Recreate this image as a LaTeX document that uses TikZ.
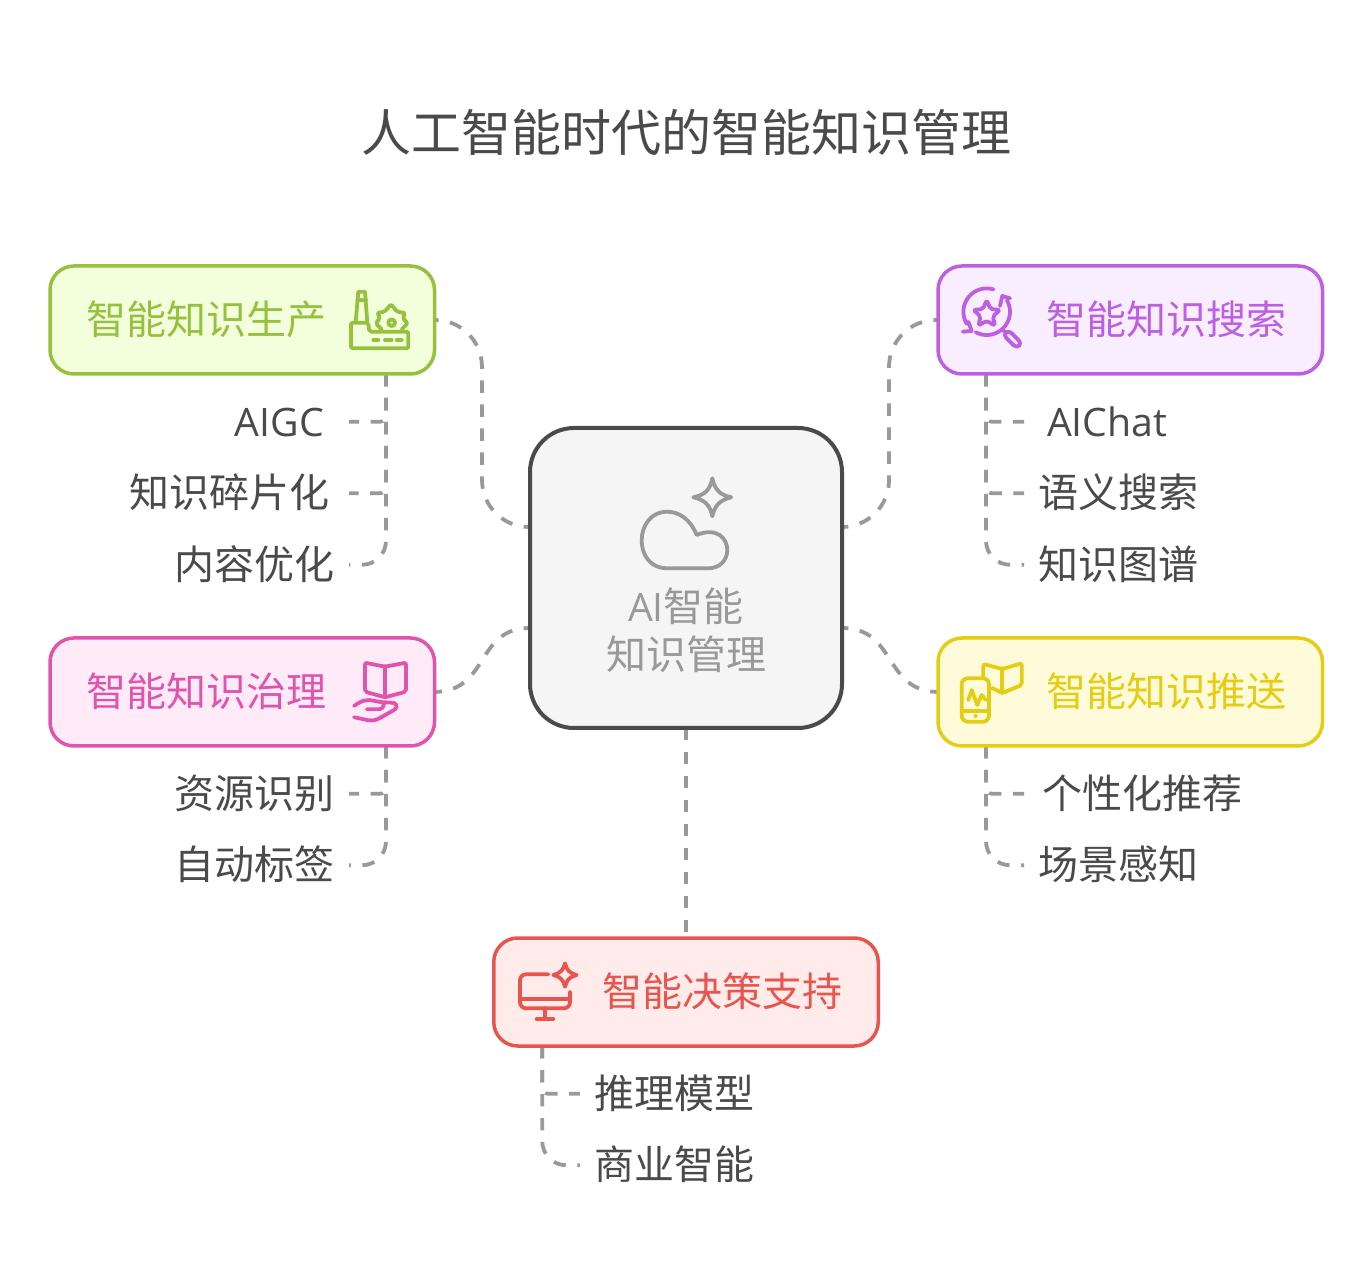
\documentclass[tikz,border=0pt]{standalone}
\usepackage{fontspec}
\setmainfont{Noto Sans CJK SC}
\newfontfamily\latinfont[Scale=0.98]{Open Sans}
\usepackage{xcolor}
\usetikzlibrary{positioning,backgrounds}
\definecolor{ink}{HTML}{4A4A4A}
\definecolor{muted}{HTML}{999999}
\definecolor{hubbg}{HTML}{F5F5F5}
\definecolor{prodc}{HTML}{97C13C}
\definecolor{prodbg}{HTML}{F3FFDC}
\definecolor{searchc}{HTML}{BC5FE0}
\definecolor{searchbg}{HTML}{F9EEFF}
\definecolor{govc}{HTML}{E055AC}
\definecolor{govbg}{HTML}{FFEBF7}
\definecolor{pushc}{HTML}{E3CE14}
\definecolor{pushbg}{HTML}{FFFADA}
\definecolor{decc}{HTML}{E8554F}
\definecolor{decbg}{HTML}{FFECEA}

\begin{document}
\begin{tikzpicture}[
    x=0.5pt, y=-0.5pt,
    hubbox/.style={draw=ink, line width=2pt, fill=hubbg, minimum width=156pt, minimum height=150pt, rounded corners=22pt, outer sep=0pt},
    hubtext/.style={text=muted, align=center, font=\fontsize{20}{24}\selectfont},
    topic/.style={draw=#1c, fill=#1bg, text=#1c, line width=1.75pt, rounded corners=12pt, outer sep=0pt, inner xsep=0pt, text width=192.25pt, minimum height=54pt, align=left, text height=14.5pt, text depth=0pt, font=\fontsize{20}{24}\selectfont},
    leaf/.style={text=ink, inner ysep=0pt, outer sep=0pt, minimum height=35.75pt, text height=14.5pt, text depth=0pt, font=\fontsize{20}{24}\selectfont},
    conn/.style={draw=muted, line width=1.9pt, dash pattern=on 6.2pt off 5.8pt},
    spoke/.style={conn, dash phase=3pt},
    icon/.style={draw=#1, line width=1.9pt, line cap=round, line join=round}
]
    \useasboundingbox (0,0) rectangle (1372,1288);

    % Title
    \node[text=ink, font=\fontsize{25}{30}\selectfont] (title) at (686,132) {人工智能时代的智能知识管理};

    % Centre block
    \node[hubbox] (hub) at (686,578) {};
    \node[hubtext] (hublabel) at ([yshift=-26pt]hub.center) {{\latinfont AI}智能\\知识管理};
    \coordinate (hubnw) at ([yshift=25.5pt]hub.west);
    \coordinate (hubsw) at ([yshift=-25pt]hub.west);
    \coordinate (hubne) at ([yshift=25.5pt]hub.east);
    \coordinate (hubse) at ([yshift=-25pt]hub.east);

    % Topic blocks
    \node[topic=prod, left=47.75pt of hub, yshift=129pt] (prod) {\hspace*{18pt}智能知识生产};
    \node[topic=gov, left=47.75pt of hub, yshift=-57pt] (gov) {\hspace*{18pt}智能知识治理};
    \node[topic=search, right=48pt of hub, yshift=129pt] (search) {\hspace*{54pt}智能知识搜索};
    \node[topic=push, right=48pt of hub, yshift=-57pt] (push) {\hspace*{54pt}智能知识推送};
    \node[topic=dec, below=105pt of hub] (dec) {\hspace*{54.5pt}智能决策支持};

    % Leaf labels
    \node[leaf, inner xsep=12.5pt, below left=6pt and 42.75pt of prod.south east] (aigc) {\latinfont AIGC};
    \node[leaf, inner xsep=10pt, below left=0pt and 0pt of aigc.south east] (frag) {知识碎片化};
    \node[leaf, inner xsep=7.5pt, below left=0pt and 0pt of frag.south east] (optim) {内容优化};
    \node[leaf, inner xsep=7.5pt, below left=6pt and 42.75pt of gov.south east] (resid) {资源识别};
    \node[leaf, inner xsep=7.5pt, below left=0pt and 0pt of resid.south east] (autotag) {自动标签};
    \node[leaf, inner xsep=11.5pt, below right=6pt and 43pt of search.south west] (aichat) {\latinfont AIChat};
    \node[leaf, inner xsep=7pt, below right=0pt and 0pt of aichat.south west] (semantic) {语义搜索};
    \node[leaf, inner xsep=7pt, below right=0pt and 0pt of semantic.south west] (kgraph) {知识图谱};
    \node[leaf, inner xsep=9pt, below right=6pt and 43pt of push.south west] (perso) {个性化推荐};
    \node[leaf, inner xsep=7pt, below right=0pt and 0pt of perso.south west] (scene) {场景感知};
    \node[leaf, inner xsep=7.5pt, below right=6pt and 43pt of dec.south west] (infer) {推理模型};
    \node[leaf, inner xsep=7.5pt, below right=0pt and 0pt of infer.south west] (bizint) {商业智能};

    % Bends and trunks
    \coordinate[left=24pt of hubnw] (prodbend);
    \coordinate[right=23.5pt of hubne] (searchbend);
    \coordinate (prodtrunk) at ([xshift=-24.25pt]prod.south east);
    \coordinate (govtrunk) at ([xshift=-24.25pt]gov.south east);
    \coordinate (searchtrunk) at ([xshift=24pt]search.south west);
    \coordinate (pushtrunk) at ([xshift=24pt]push.south west);
    \coordinate (dectrunk) at ([xshift=24.25pt]dec.south west);

    % Connections
    \begin{scope}[on background layer]
        \draw[spoke, rounded corners=23.5pt] (hubnw) -- (prodbend) |- (prod.east);
        \draw[spoke, rounded corners=23.5pt] (hubne) -- (searchbend) |- (search.west);
        \draw[spoke] (hubsw) .. controls (475,628) and (490,691) .. (gov.east);
        \draw[spoke] (hubse) .. controls (897,628) and (883,691) .. (push.west);
        \draw[conn] (hub.south) -- (dec.north);

        \draw[conn, rounded corners=3pt] (prodtrunk) |- (aigc.east);
        \draw[conn, rounded corners=3pt] (prodtrunk) |- (frag.east);
        \draw[conn, rounded corners=12pt] (prodtrunk) |- (optim.east);
        \draw[conn, rounded corners=3pt] (govtrunk) |- (resid.east);
        \draw[conn, rounded corners=12pt] (govtrunk) |- (autotag.east);
        \draw[conn, rounded corners=3pt] (searchtrunk) |- (aichat.west);
        \draw[conn, rounded corners=3pt] (searchtrunk) |- (semantic.west);
        \draw[conn, rounded corners=12pt] (searchtrunk) |- (kgraph.west);
        \draw[conn, rounded corners=3pt] (pushtrunk) |- (perso.west);
        \draw[conn, rounded corners=12pt] (pushtrunk) |- (scene.west);
        \draw[conn, rounded corners=3pt] (dectrunk) |- (infer.west);
        \draw[conn, rounded corners=12pt] (dectrunk) |- (bizint.west);
    \end{scope}

    % Cloud and sparkle
    \draw[icon=muted] (696.7,535) .. controls (690,518.3) and (678.3,511.7) .. (666.7,511.7) .. controls (651.7,511.7) and (641.7,525) .. (641.7,540) .. controls (641.7,556.7) and (651.7,568.3) .. (666.7,568.3) -- (708.3,568.3) .. controls (720,568.3) and (727.3,560) .. (727.3,550) .. controls (727.3,538.3) and (716.7,526.7) .. (696.7,535);
    \draw[icon=muted] (712.3,478.3) .. controls (715,490) and (720,495) .. (731.3,497.3) .. controls (720,500) and (715,505) .. (712.3,516.3) .. controls (710,505) and (705,500) .. (693.3,497.3) .. controls (705,495) and (710,490) .. (712.3,478.3) -- cycle;

    % Factory
    \draw[icon=prodc] (355.7,322) -- (358.3,291.7) -- (365,291.7) -- (367.3,322);
    \draw[icon=prodc] (357.5,300) -- (366,300);
    \draw[icon=prodc, rounded corners=1pt] (351,322.7) -- (368.3,322.7) -- (369.3,331.7) -- (408.3,331.7) -- (408.3,348.3) -- (351,348.3) -- cycle;
    \draw[icon=prodc] (373.3,340) -- (378.3,340) (385,340) -- (391.7,340) (396.7,340) -- (401.7,340);
    \draw[icon=prodc, rounded corners=1pt] (381.7,329.3) -- (375.7,323.3) -- (380,318.3) -- (377.3,312.7) -- (384.3,312) -- (391,304.3) -- (397.3,312) -- (405,312.7) -- (402.7,318.3) -- (407.7,323.3) -- (401.7,329.3);
    \draw[icon=prodc] (391.7,322.7) circle[radius=3.3];

    % Magnifier with star
    \draw[icon=searchc] plot[domain=148:287, samples=24] ({986.7+23.3*cos(\x)},{311.7+23.3*sin(\x)});
    \draw[icon=searchc] plot[domain=-30:118, samples=24] ({986.7+23.3*cos(\x)},{311.7+23.3*sin(\x)});
    \draw[icon=searchc] (1000,306) -- (1002.3,296) -- (1010,298.3);
    \draw[icon=searchc] (962.7,331.7) -- (971.7,331) -- (968.3,321.7);
    \draw[icon=searchc, rounded corners=1pt] (986.7,300.3) -- (990.5,309) -- (1000,310) -- (992.9,316.3) -- (994.9,325.6) -- (986.7,320.8) -- (978.5,325.6) -- (980.5,316.3) -- (973.4,310) -- (982.9,309) -- cycle;
    \draw[icon=searchc, rounded corners=2pt] (1003.3,335) -- (1008.3,330) -- (1021.7,343.3) -- (1016.7,348.3) -- cycle;
    \draw[icon=searchc] (1002,329) -- (1005,332);

    % Book on a hand
    \draw[icon=govc, rounded corners=1pt] (365,662.7) -- (385,666.7) -- (406,662.7) -- (406,691.7) -- (385,697.3) -- (365,691.7) -- cycle;
    \draw[icon=govc] (385,666.7) -- (385,697.3);
    \draw[icon=govc] (354,706) .. controls (362,700) and (368,699) .. (375,701) .. controls (382,703) and (390,702) .. (394,703) .. controls (398,705) and (397,708) .. (394,710) -- (380,718) .. controls (372,723) and (365,719) .. (354,717.3);
    \draw[icon=govc] (366.7,709.3) -- (378,709.3) .. controls (382,709.3) and (384,707) .. (384,704);

    % Phone and book
    \draw[icon=pushc, rounded corners=3pt] (961.7,678.3) rectangle (989,721.7);
    \draw[icon=pushc] (961.7,710.7) -- (989,710.7);
    \draw[icon=pushc] (975.3,716) -- (975.7,716);
    \draw[icon=pushc] (968.3,700) -- (971.7,690) -- (977.3,705) -- (981.7,695) -- (985.7,700);
    \draw[icon=pushc, rounded corners=1pt] (983.3,678) -- (983.3,664) -- (1002.3,669) -- (1021.7,663.3) -- (1021.7,685) -- (1002.3,693) -- (992,688);
    \draw[icon=pushc] (1002.3,669) -- (1002.3,693);

    % Monitor with sparkle
    \draw[icon=decc, rounded corners=3pt] (548.3,974.3) -- (520,974.3) -- (520,1008.3) -- (570,1008.3) -- (570,991.7);
    \draw[icon=decc] (520,999) -- (570,999);
    \draw[icon=decc] (545,1008.3) -- (545,1019) (536.7,1019) -- (553.3,1019);
    \draw[icon=decc] (565,963.3) .. controls (566.5,970) and (570,973.5) .. (576.7,975) .. controls (570,976.5) and (566.5,980) .. (565,986.7) .. controls (563.5,980) and (560,976.5) .. (553.3,975) .. controls (560,973.5) and (563.5,970) .. (565,963.3) -- cycle;
\end{tikzpicture}
\end{document}
